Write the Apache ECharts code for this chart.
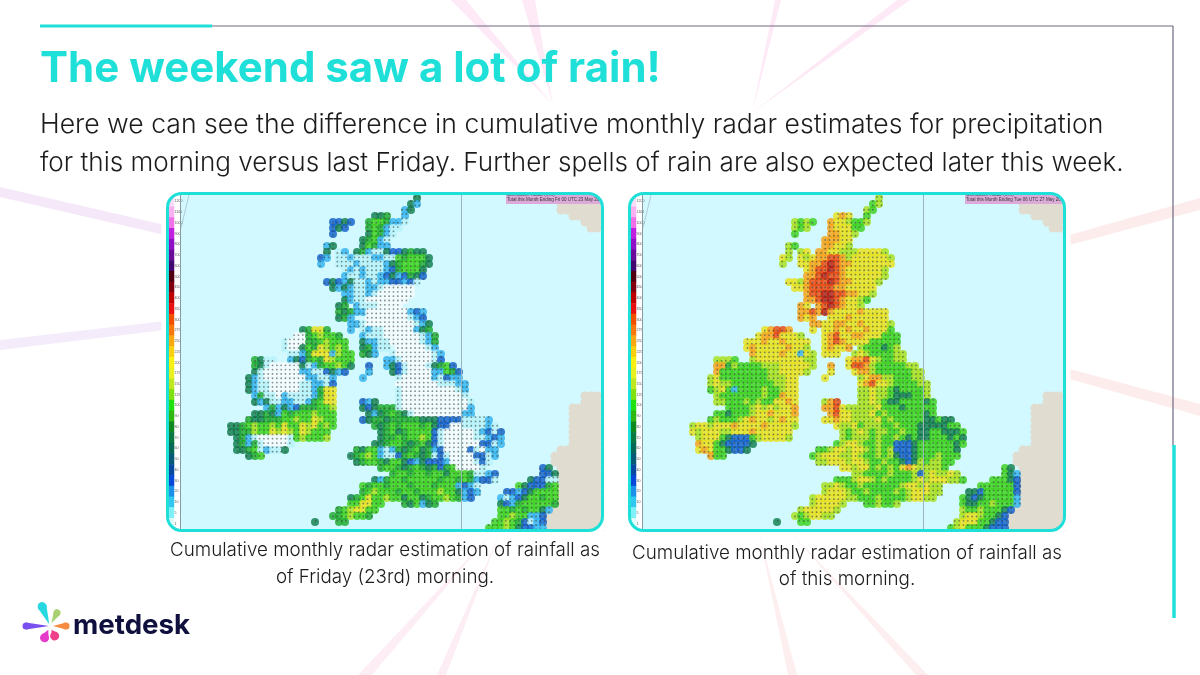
<!DOCTYPE html>
<html>
<head>
<meta charset="utf-8">
<title>metdesk radar</title>
<script src="https://cdn.jsdelivr.net/npm/echarts@6/dist/echarts.min.js"></script>
<style>
html, body { margin: 0; padding: 0; background: #fff; }
.layer { position: absolute; left: 0; top: 0; width: 1200px; height: 675px; }
#maps { filter: blur(0.7px); }
</style>
</head>
<body>
<div id="maps" class="layer"></div>
<div id="chart" class="layer"></div>
<script>
// cumulative radar, one string per grid row, "col:cells"
// w i b B = trace to blue, t g G l = greens, y o r R = yellow to dark red
var radarFriday = [
    '39:t', '38:tb', '37:bt', '37:b 32:ttg',
    '25:BBtB 31:gGGgbbi', '25:BtB 31:gGgbii', '25:B 31:tGgbi', '30:tgGbi', '24:bt 30:tGgbb',
    '24:t 26:ib 29:tgbiitBBtgtt', '23:Bb 26:iibiiibbiiGgGGGt', '23:b 26:iiibiiiibtgGGGgt',
    '27:ibibiiibBgGGGt', '27:biibiibBtbBgtB', '24:BtB 27:btiibibbBBbBi', '25:t 26:btbiibbiwwwww',
    '27:bbiibiwwwwww', '27:tbiiwwwwwww', '26:tg 29:biiiwwww', '26:gtg 29:bbwwwwwwwbBb',
    '26:tg 28:b 31:wwwwwwwibB', '28:bb 30:iwwwwwwwwibt', '20:tgyyg 28:b 30:ibiiwwwwwbtg',
    '19:wwgGlGGg 30:biiiwwwwwwibg', '17:iwwwggGlGGG 30:tbbiiwwwwwibg', '17:iwwtGgylGlG 30:tgbii 36:wwwwwib',
    '18:iibgyyyblGG 30:gtb 35:iwwwwwwib', '12:gtii 18:btBgGgylGGG 34:bbiwwwwwiB',
    '12:gtiwwwwwtibgGGlGt 31:B 34:btBiwwwitgGB', '12:tiwwwwwwbbiiBtbB 31:b 35:tBiwwwwbbGgB',
    '11:tbiwwwwwwwbbiib 30:b 36:iwwwwwbiBbb', '11:tbiiwwwwwiibbiB 36:wwwwwwwiiibb',
    '11:tbiiwwwwwiibgyy 36:iwwwwwwwwwib', '12:bgiiwbiiiibgyy 36:iwwwwwwwwwwi',
    '12:tbtiibbiibgGyy 30:Bbt 36:iwwwwwwwwwwwi', '14:bgbtbBgggGGl 30:tBtgggiwwwwwwwwwwwb',
    '12:ttgtbGgGGGlGGG 31:tbtgGgtiwwwwwwwwbb', '11:gttgggGGlGGylGG 30:BtggtgggggtttBBBBiiiib',
    '8:ttgGlGGlGyGGylyGlG 32:gtgGgGGGgGtBBwwiiiibi', '8:ttgglGGylylGylGGG 33:tgGtgGGGGBiwwwwwibBiB',
    '9:tgbiwwwwwiGlGGGl 33:tggGgGGlGBiwwwwwiibBb', '9:tgbgiwwwwi 32:ttgGGgtgGtBiwwwwwwBBib',
    '9:ttgGibiit 29:gtGGbibgtgGtgbBwwwwBiwbb', '11:tgG 28:tgGlGbiiBgGgtgiBiwwwwBBib',
    '29:tgGGgtGGtBbtBBBbwwwwiBi', '33:gGGgtgGgtgBgGwwwwi 60:Bt', '35:gGGgGGgGGtGGGgiibB 60:BBt',
    '32:tbgGGgGGGGGgGGgGgbBBi 58:tBBii', '30:GgGGgGGGgGGGgGGGbBbi 56:GtBBBgG',
    '30:gGlGGGgGGgGGGlGGtbBb 54:BBbBtGGGG', '28:tgGyGGlGGtGGtgGGlGgbB 53:bibBtGGgGG',
    '28:GGyyGG 37:gtGbtg 53:tBbgGGGGGg', '26:gGlyyGG 53:GGgGgGGtb', '25:ggGlGGg 53:GGlGGbbB',
    '22:t 26:gg 52:GGlGgBibB', '51:GGGlGtBBbb'
];
var radarToday = [
    '39:l', '38:Gl', '37:lG', '37:G 32:yoy',
    '25:lGlG 31:oyylGGl', '25:lGl 31:oyyyGG', '25:G 31:ooyyl', '30:oooyy', '24:lG 30:ooyyl',
    '24:l 26:ly 29:ooyylllyyyyl', '23:yl 26:ylyoorrolyyyyyyl', '23:l 26:yyoorRrooyyyyyyy',
    '27:yorrRroyyyyyyl', '27:oorRrroyyyyyyl', '24:yyl 27:orrrRrooyyyyl', '25:y 26:yorrrrooyyyyy',
    '27:orrRRrrooyyl', '27:oorRRroyylG', '26:oy 29:orRroyyl', '26:oor 29:oRoyyyyoyyyy',
    '26:oy 28:o 31:yyyoyyyyyy', '28:oo 30:yyooyyoyyyyl', '20:yorro 28:y 30:yyoyoyyoyyyG',
    '19:yooryyyl 30:yoryyooyyyGGG', '17:yyyoyyoyyyy 30:yoroyyyyGGGGG', '17:yoyyyyyoyyl 30:yoyyo 36:lGGGtGl',
    '18:oyyyyoyybyl 30:yyy 35:lylGGGGll', '12:lllG 18:lyyyyyyyyll 34:yoorylGGll',
    '12:ooglGGGGlllyyyyyl 31:o 34:yrrolGGGGGll', '12:oGGGGGGGGllyyyyl 31:y 35:yoolGGGGGGll',
    '11:lyGGGGGGGGlllyy 30:y 36:lyoollGGGll', '11:lyllGGGGGGGllyy 36:yoryylGGGGll',
    '11:GlyGbGGGGlGGlyy 36:llyllGtGGGGl', '12:lGGGGGGGlGGoyy 36:llyllGtttGGl',
    '12:llGGGlGlGGyyoy 30:lor 36:llylGttGGGGtG', '14:GGGGlylylyyo 30:oorylllllyGGGtGGGGG',
    '12:GGtGGGlyyoyyyo 31:oryylllyGlGGGGGGtG', '11:GlGGGlyoyylyoyy 30:yyoyyllllyGlGGGGGttGtt',
    '8:lyylyyyoyyyyoyyyyl 32:yllyGlllGGlGGGtttttGG', '8:ylyyyllyyyoyyyyyy 33:lGlylGllGGlGGttGGtttG',
    '9:lyyyGtBBBGlyyyyl 33:lGlllGlGGlGtGttGGGtGt', '9:oyyGtBBBBt 32:GlyylGGlGGBBBtGGGGGGtG',
    '9:yoyGGtBBt 29:GGlyylyylGlGlBBBtGGGGGGt', '11:oGG 28:GlyyyllylGGlGltBBtGGGlGGG',
    '29:llyyylyylGGlGGtBtlGllGG', '33:yylyyGlGlGyoyllllG 60:Gt', '35:llGGGGlGGGlBlyllyl 60:Gtb',
    '32:GGGlyylGlGGGGlylyyyllG 58:GGGtB', '30:llylGGlGGGGGGlyylyll 56:GGGGGGB',
    '30:lyyylGGlGGGGlGlyyyll 54:ttBGGGGGB', '28:lyyyyyllGGGlGGGGlyyll 53:GtBtGGGGGb',
    '28:lyyyyl 37:GGlGGl 53:GttGGlGGGb', '26:lyyyyyl 53:lGGlGGGtB', '25:lGlyyll 53:lyylGGtB',
    '22:t 26:GG 52:lyyyGGtBB', '51:GlyGGGtBBB'
];
// first grid column of the continent in each row, -1 for none
var continentStart = [
    63, 63, 63, 65, 67, 68, -1, -1, -1, -1, -1, -1, -1, -1, -1, -1, -1, -1, -1, -1, -1, -1, -1, -1, -1, -1, -1, -1,
    -1, -1, -1, -1, -1, 67, 67, 65, 65, 65, 65, 65, 65, 65, 63, 62, 62, 63, 63, 63, 63, 63, 63, 63, 62, 61, 61, 61
];
var levelKeys = ['w', 'i', 'b', 'B', 't', 'g', 'G', 'l', 'y', 'o', 'r', 'R'];
var levelColours = ['#f6fdff', '#b8f2fb', '#30b0ee', '#0c5cc8', '#0a7c48', '#18a828', '#38d018', '#a8e018', '#e8e018', '#f8a010', '#e84408', '#b81408'];
// colour scale on the left of each map, top to bottom
var scaleColours = [
    '#fbdcf6', '#f8b0f0', '#f070e8', '#c020e0', '#9010c8', '#6a0a98', '#400870', '#500010', '#800010', '#c00000', '#e81010',
    '#f05000', '#f87810', '#f8a810', '#f8d010', '#f8f010', '#e8f020', '#c0e820', '#80e010', '#20e010', '#30b810',
    '#108820', '#0a7840', '#086858', '#085878', '#0848a0', '#0848d8', '#1a90e8', '#30c8f0', '#80f0f8', '#e0fcfc'
];
var scaleTicks = [
    '1200', '1100', '1000', '900', '800', '700', '600', '500', '450', '400', '350',
    '300', '275', '250', '225', '200', '175', '150', '125', '100', '90',
    '80', '70', '60', '50', '40', '30', '20', '10', '5', '1'
];

var titleText = 'The weekend saw a lot of rain!';
var bodyLines = [
    'Here we can see the difference in cumulative monthly radar estimates for precipitation',
    'for this morning versus last Friday. Further spells of rain are also expected later this week.'
];
var captionFriday = ['Cumulative monthly radar estimation of rainfall as', 'of Friday (23rd) morning.'];
var captionToday = ['Cumulative monthly radar estimation of rainfall as', 'of this morning.'];

var TEAL = '#1fe0d8';
var BODY_FONT = 'Inter';
var COLS = 70, ROWS = 56;

function parseRows(rows) {
    var cells = [], land = {};
    rows.forEach(function (row, r) {
        row.split(' ').forEach(function (part) {
            var bits = part.split(':'), start = +bits[0];
            bits[1].split('').forEach(function (key, k) {
                var lvl = levelKeys.indexOf(key);
                cells.push({ value: [start + k + 0.5, r + 0.5], itemStyle: { color: levelColours[lvl] } });
                land[(start + k) + '_' + r] = true;
            });
        });
    });
    // the stipple of the source map sits on the radar land only
    var dots = [];
    for (var fy = 0.3; fy < ROWS; fy += 0.72) {
        for (var fx = 0.3; fx < COLS; fx += 0.72) {
            if (land[Math.floor(fx) + '_' + Math.floor(fy)]) dots.push([fx, fy]);
        }
    }
    return { cells: cells, dots: dots };
}
var continentCells = [];
continentStart.forEach(function (from, r) {
    if (from < 0) return;
    for (var c = from; c < COLS; c++) continentCells.push([c + 0.5, r + 0.5]);
});

function ray(points, colour) {
    return { type: 'polygon', z: 0, silent: true, shape: { points: points }, style: { fill: colour } };
}

var graphics = [
    ray([[451, 0], [466, 0], [553, 105]], '#fdeaf6'),
    ray([[522, 0], [535, 0], [553, 105]], '#fdeaf6'),
    ray([[775, 0], [781, 0], [752, 113]], '#fdeaf6'),
    ray([[897, 0], [910, 0], [752, 113]], '#fdeaf6'),
    ray([[358, 675], [372, 675], [492, 533]], '#fdeef6'),
    ray([[437, 675], [446, 675], [500, 533]], '#fdeef6'),
    ray([[788, 675], [797, 675], [759, 533]], '#fdeef0'),
    ray([[916, 675], [928, 675], [791, 533]], '#fdeef0'),
    ray([[0, 187], [0, 197], [165, 235], [165, 225]], '#f4e8f9'),
    ray([[0, 340], [0, 350], [165, 330], [165, 321]], '#f4ecfa'),
    ray([[1066, 236], [1066, 246], [1200, 210], [1200, 198]], '#fdecec'),
    ray([[1066, 368], [1066, 378], [1200, 416], [1200, 404]], '#fdecec'),
    // slide frame
    { type: 'line', shape: { x1: 212, y1: 26, x2: 1173, y2: 26 }, style: { stroke: '#6e6880', lineWidth: 1.2 } },
    { type: 'line', shape: { x1: 1173, y1: 26, x2: 1173, y2: 445 }, style: { stroke: '#6e6880', lineWidth: 1.2 } },
    { type: 'line', shape: { x1: 40, y1: 26, x2: 212, y2: 26 }, style: { stroke: TEAL, lineWidth: 3 } },
    { type: 'line', shape: { x1: 1174, y1: 445, x2: 1174, y2: 618 }, style: { stroke: TEAL, lineWidth: 3.5 } }
];

// lines and stamp printed on the source map
function panelGraphics(dx, stampX, stamp) {
    return [
        { type: 'rect', z: -1, shape: { x: 598 + dx, y: 195, width: 6, height: 336 }, style: { fill: '#d2f9ff' } },
        { type: 'line', z: 8, shape: { x1: 180.5 + dx, y1: 195, x2: 180.5 + dx, y2: 529 }, style: { stroke: '#8a9aa0', lineWidth: 1 } },
        { type: 'line', z: 8, shape: { x1: 189 + dx, y1: 195, x2: 181 + dx, y2: 228 }, style: { stroke: '#a8c0c8', lineWidth: 0.8 } },
        { type: 'line', z: 8, shape: { x1: 461.5 + dx, y1: 195, x2: 461.5 + dx, y2: 529 }, style: { stroke: '#9ab4bc', lineWidth: 1 } },
        { type: 'rect', z: 8, shape: { x: stampX, y: 195, width: 602 + dx - stampX, height: 9 }, style: { fill: '#dcaad8' } },
        { type: 'text', z: 9, style: { x: stampX + 1, y: 192, text: 'Cumulative Radar (mm)', font: '4.5px "Liberation Sans"', fill: '#444' } },
        { type: 'text', z: 9, style: { x: stampX + 1, y: 197.5, text: stamp, font: '4.5px "Liberation Sans"', fill: '#333' } }
    ];
}
var mapGraphics = panelGraphics(0, 506, 'Total this Month Ending Fri 00 UTC 23 May 2025')
    .concat(panelGraphics(462, 965, 'Total this Month Ending Tue 06 UTC 27 May 2025'));

function panelFrame(dx) {
    return [
        { type: 'rect', z: 9, shape: { x: 164.5 + dx, y: 190.5, width: 441, height: 343, r: 17 }, style: { fill: 'none', stroke: '#fff', lineWidth: 6 } },
        { type: 'rect', z: 10, shape: { x: 167.5 + dx, y: 193.5, width: 435, height: 337, r: 14 }, style: { fill: 'none', stroke: TEAL, lineWidth: 3 } }
    ];
}
graphics = graphics.concat(panelFrame(0), panelFrame(462));

// logo petals
function petal(cx, cy, angle, gap, len, rad, colour) {
    return {
        type: 'group', x: cx, y: cy, rotation: -angle * Math.PI / 180, children: [
            { type: 'polygon', shape: { points: [[gap, 0], [len, -rad], [len, rad]] }, style: { fill: colour } },
            { type: 'circle', shape: { cx: len, cy: 0, r: rad }, style: { fill: colour } }
        ]
    };
}
graphics = graphics.concat([
    petal(50, 626, 180, 1, 24, 3.5, '#7a4ff0'),
    petal(50, 626, 115, 4, 13, 4.5, '#e43cc8'),
    petal(50, 626, 65, 4, 11, 4.5, '#f0408a'),
    petal(50, 626, 0, 3, 16, 3.5, '#f88a40'),
    petal(50, 626, -112, 2, 21, 4.5, '#28d8e0'),
    petal(50, 626, -62, 3, 15, 3.5, '#a8d070')
]);

function textItem(text, left, top, size, weight, colour, family) {
    return { text: text, left: left, top: top, padding: 0, textStyle: { fontFamily: family || BODY_FONT, fontSize: size, fontWeight: weight, color: colour } };
}
function centred(text, cx, top) {
    return { text: text, left: cx, top: top, padding: 0, textAlign: 'center', textStyle: { fontFamily: BODY_FONT, fontSize: 18.8, fontWeight: 300, color: '#1c1c1c' } };
}

var friday = parseRows(radarFriday);
var today = parseRows(radarToday);

function mapAxes(index, left) {
    return {
        grid: { left: left, top: 195, width: 420, height: 336, show: true, backgroundColor: '#d2f9ff', borderWidth: 0 },
        x: { type: 'value', gridIndex: index, min: 0, max: COLS, show: false },
        y: { type: 'value', gridIndex: index, min: 0, max: ROWS, inverse: true, show: false }
    };
}
function scaleAxes(index, left) {
    return {
        grid: { left: left, top: 196, width: 5, height: 333, show: true, backgroundColor: '#fff', borderWidth: 0 },
        x: { type: 'category', gridIndex: index, data: ['s'], show: false },
        y: {
            type: 'category', gridIndex: index, data: scaleTicks, inverse: true, position: 'right',
            axisLine: { show: false }, axisTick: { show: false },
            axisLabel: { fontSize: 3.6, margin: 0.6, color: '#555', interval: 0, fontFamily: 'Liberation Sans' }
        }
    };
}
var panels = [mapAxes(0, 180), mapAxes(1, 642), scaleAxes(2, 169), scaleAxes(3, 631)];

// round overlapping marks give a softer coast than square cells
function blobSeries(axis, data, size, z, colour) {
    var s = {
        type: 'scatter', xAxisIndex: axis, yAxisIndex: axis, data: data, silent: true, symbolSize: size,
        progressive: 0, large: false, clip: false, z: z, emphasis: { disabled: true }
    };
    if (colour) s.itemStyle = { color: colour, opacity: 1 };
    return s;
}
function dotSeries(axis, data) {
    return {
        type: 'scatter', xAxisIndex: axis, yAxisIndex: axis, data: data, silent: true, symbolSize: 1.8,
        itemStyle: { color: '#3a4438', opacity: 0.6 }, progressive: 0, z: 4, emphasis: { disabled: true }
    };
}
function scaleSeries(axis) {
    return {
        type: 'heatmap', xAxisIndex: axis, yAxisIndex: axis, silent: true, progressive: 0, emphasis: { disabled: true },
        data: scaleColours.map(function (c, n) { return { value: [0, n, n], itemStyle: { color: c } }; })
    };
}

var mapChart = echarts.init(document.getElementById('maps'));
mapChart.setOption({
    backgroundColor: 'transparent',
    animation: false,
    tooltip: { show: false },
    grid: panels.map(function (p) { return p.grid; }),
    xAxis: panels.map(function (p) { return p.x; }),
    yAxis: panels.map(function (p) { return p.y; }),
    series: [
        blobSeries(0, continentCells, 9, 2, '#e0dccf'), blobSeries(0, friday.cells, 8, 3), dotSeries(0, friday.dots),
        blobSeries(1, continentCells, 9, 2, '#e0dccf'), blobSeries(1, today.cells, 8, 3), dotSeries(1, today.dots),
        scaleSeries(2), scaleSeries(3)
    ],
    graphic: { elements: mapGraphics }
});

var myChart = echarts.init(document.getElementById('chart'));
myChart.setOption({
    backgroundColor: 'transparent',
    animation: false,
    tooltip: { show: false },
    title: [
        textItem(titleText, 40, 48, 42, 700, TEAL, 'Inter'),
        textItem(bodyLines[0], 40, 111, 26.6, 300, '#1c1c1c'),
        textItem(bodyLines[1], 40, 150, 26.1, 300, '#1c1c1c'),
        centred(captionFriday[0], 385, 541),
        centred(captionFriday[1], 385, 568),
        centred(captionToday[0], 847, 544),
        centred(captionToday[1], 847, 570),
        textItem('metdesk', 73, 612, 27.7, 700, '#10103f', 'Inter')
    ],
    graphic: { elements: graphics }
});
</script>
</body>
</html>
